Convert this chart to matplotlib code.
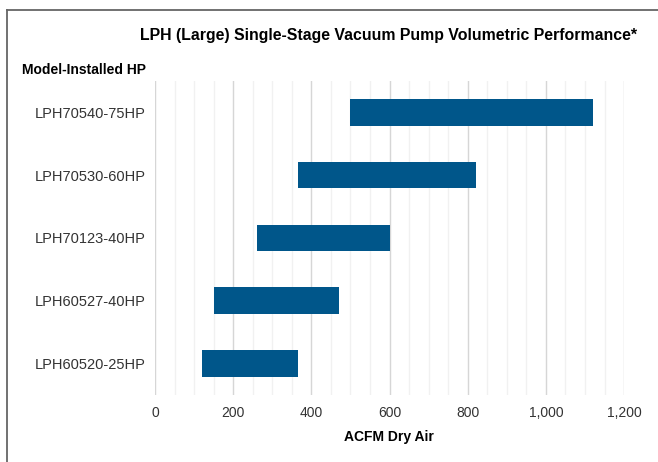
import matplotlib.pyplot as plt
from matplotlib.lines import Line2D
from matplotlib.ticker import MultipleLocator, FuncFormatter

plt.rcParams['font.family'] = ['Liberation Sans', 'DejaVu Sans']

# Data: ACFM range per pump model (top to bottom)
models = ['LPH70540-75HP', 'LPH70530-60HP', 'LPH70123-40HP', 'LPH60527-40HP', 'LPH60520-25HP']
acfm_low = [500, 365, 260, 150, 120]
acfm_high = [1120, 822, 600, 470, 365]

BAR_COLOR = '#00568a'

fig = plt.figure(figsize=(6.58, 4.62), dpi=100)
ax = fig.add_axes([0.2356, 0.1457, 0.7128, 0.679])

widths = [hi - lo for lo, hi in zip(acfm_low, acfm_high)]
ax.barh(range(len(models)), widths, left=acfm_low, height=0.425, color=BAR_COLOR, zorder=3)

ax.set_yticks(range(len(models)))
ax.set_yticklabels(models)
ax.set_ylim(len(models) - 0.5, -0.5)
ax.set_xlim(0, 1200)

# grid: major every 200, light minor lines every 50
ax.xaxis.set_major_locator(MultipleLocator(200))
ax.xaxis.set_minor_locator(MultipleLocator(50))
ax.xaxis.set_major_formatter(FuncFormatter(lambda v, p: f'{v:,.0f}'))
ax.grid(axis='x', which='major', color='#d6d6d6', lw=1)
ax.grid(axis='x', which='minor', color='#f1f1f1', lw=1)
ax.set_axisbelow(True)

for s in ax.spines.values():
    s.set_visible(False)
ax.tick_params(axis='both', which='both', length=0, labelcolor='#333333')
ax.tick_params(axis='y', labelsize=10.5, pad=7)
ax.tick_params(axis='x', labelsize=10, pad=8)

# titles
fig.text(0.591, 0.924, 'LPH (Large) Single-Stage Vacuum Pump Volumetric Performance*',
         ha='center', va='center', fontsize=11.4, fontweight='bold')
fig.text(0.034, 0.8485, 'Model-Installed HP', ha='left', va='center',
         fontsize=10, fontweight='bold')
fig.text(0.591, 0.054, 'ACFM Dry Air', ha='center', va='center',
         fontsize=10, fontweight='bold')

# frame lines (top and left)
fig.add_artist(Line2D([7 / 658, 1], [1 - 9.5 / 462, 1 - 9.5 / 462], color='#666666', lw=1.3))
fig.add_artist(Line2D([7 / 658, 7 / 658], [0, 1 - 9.5 / 462], color='#666666', lw=1.3))

fig.savefig('out.png', dpi=100)
